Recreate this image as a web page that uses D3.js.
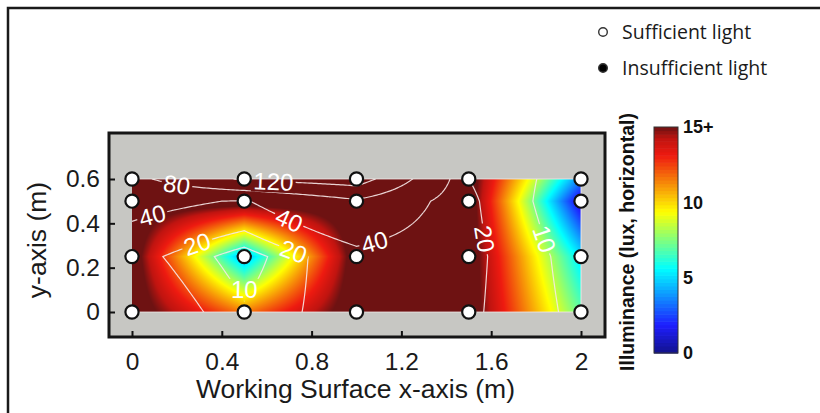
<!DOCTYPE html>
<html><head><meta charset="utf-8">
<script src="https://cdn.jsdelivr.net/npm/d3@7"></script>
<style>
html,body{margin:0;padding:0;background:#fff;}
svg{display:block;}
</style></head>
<body>
<svg id="chart" width="820" height="413"></svg>
<script>
// ---------------- DATA ----------------
const xs = [0, 0.5, 1.0, 1.5, 2.0];          // measurement x positions (m)
const ys = [0, 0.25, 0.5, 0.6];               // measurement y positions (m)
const lux = [                                  // illuminance, one row per ys entry
  [35, 11.5, 28, 22, 7],
  [26, 4.2, 32, 23, 5.2],
  [48, 38, 75, 22, 1.0],
  [70, 125, 140, 20, 3.5]
];
const pointStatus = [                          // all measured points
  ["s","s","s","s","s"],
  ["s","s","s","s","s"],
  ["s","s","s","s","s"],
  ["s","s","s","s","s"]
];
const contourLevels = [10, 20, 40, 80, 120];
const labelHints = [                           // contour label anchors (data units)
  {v: 80, x: 0.2, y: 0.585},
  {v: 120, x: 0.63, y: 0.595},
  {v: 40, x: 0.08, y: 0.465},
  {v: 40, x: 0.71, y: 0.44},
  {v: 40, x: 1.07, y: 0.345},
  {v: 20, x: 0.27, y: 0.37},
  {v: 20, x: 0.73, y: 0.29},
  {v: 10, x: 0.5, y: 0.1, a: 0},
  {v: 20, x: 1.55, y: 0.33},
  {v: 10, x: 1.83, y: 0.33}
];
const xTicks = [0, 0.4, 0.8, 1.2, 1.6, 2];
const yTicks = [0, 0.2, 0.4, 0.6];
const cbTicks = [0, 5, 10, 15];
const cbTickLabels = ["0", "5", "10", "15+"];
const legendItems = [
  {label: "Sufficient light", fill: "#fff"},
  {label: "Insufficient light", fill: "#000"}
];
const xTitle = "Working Surface x-axis (m)";
const yTitle = "y-axis (m)";
const cbTitle = "Illuminance (lux, horizontal)";

// ---------------- SETUP ----------------
const svg = d3.select("#chart");
const xS = d3.scaleLinear().domain([0, 2]).range([132, 581]);
const yS = d3.scaleLinear().domain([0, 0.6]).range([312, 179]);
const frame = {x0: 109, y0: 133, x1: 605, y1: 337};

// jet-like colour map, 0..15 lux (15+ saturates)
const jetS = d3.scaleLinear()
  .domain([0, 1 / 8, 3 / 8, 5 / 8, 7 / 8, 0.95, 1])
  .range(["#12128a", "#1e1eff", "#00ffff", "#ffff00", "#ee1a10", "#c01410", "#6e1212"])
  .interpolate(d3.interpolateRgb).clamp(true);
const color = d3.scaleSequential(t => jetS(t)).domain([0, 15]).clamp(true);

function idx(arr, v) {
  for (let i = 0; i < arr.length - 2; i++) if (v <= arr[i + 1]) return i;
  return arr.length - 2;
}
// bilinear interpolation of the measured grid; g transforms the stored values
function interp(x, y, g) {
  x = Math.max(xs[0], Math.min(xs[xs.length - 1], x));
  y = Math.max(ys[0], Math.min(ys[ys.length - 1], y));
  const i = idx(xs, x), j = idx(ys, y);
  const u = (x - xs[i]) / (xs[i + 1] - xs[i]);
  const w = (y - ys[j]) / (ys[j + 1] - ys[j]);
  const L = (a, b) => g(lux[b][a]);
  return (1 - u) * (1 - w) * L(i, j) + u * (1 - w) * L(i + 1, j) +
         (1 - u) * w * L(i, j + 1) + u * w * L(i + 1, j + 1);
}
const lineField = (x, y) => interp(x, y, v => v);
const colorField = (x, y) => interp(x, y, v => Math.min(v, 16));

// ---------------- OUTER FRAME ----------------
svg.append("path").attr("d", "M8,413 L8,8 L820,8")
  .attr("fill", "none").attr("stroke", "#1a1a1a").attr("stroke-width", 2.5);

// ---------------- AXES BOX ----------------
svg.append("rect").attr("x", frame.x0).attr("y", frame.y0)
  .attr("width", frame.x1 - frame.x0).attr("height", frame.y1 - frame.y0)
  .attr("fill", "#c7c7c3");

// raster
const W = Math.round(xS(2) - xS(0)), H = Math.round(yS(0) - yS(0.6));
const cv = document.createElement("canvas");
cv.width = W; cv.height = H;
const ctx = cv.getContext("2d");
const img = ctx.createImageData(W, H);
for (let py = 0; py < H; py++) {
  for (let px = 0; px < W; px++) {
    const x = xS.invert(xS(0) + px + 0.5), y = yS.invert(yS(0.6) + py + 0.5);
    const c = d3.rgb(color(colorField(x, y)));
    const k = (py * W + px) * 4;
    img.data[k] = c.r; img.data[k + 1] = c.g; img.data[k + 2] = c.b; img.data[k + 3] = 255;
  }
}
ctx.putImageData(img, 0, 0);
svg.append("image").attr("x", xS(0)).attr("y", yS(0.6))
  .attr("width", W).attr("height", H)
  .attr("preserveAspectRatio", "none")
  .attr("href", cv.toDataURL());

// light edge lines of the interpolated surface (top, right, bottom)
svg.append("path")
  .attr("d", `M${xS(0)},${yS(0.6)} H${xS(2)} V${yS(0)} H${xS(0)}`)
  .attr("fill", "none").attr("stroke", "#f4eeee").attr("stroke-opacity", 0.75).attr("stroke-width", 1.1);

// contours
const step = 0.01, pad = 3;
const nx = Math.round(2 / step) + 1 + 2 * pad, ny = Math.round(0.6 / step) + 1 + 2 * pad;
const vals = new Array(nx * ny);
for (let j = 0; j < ny; j++) for (let i = 0; i < nx; i++)
  vals[j * nx + i] = lineField((i - pad) * step, (j - pad) * step);
const contours = d3.contours().size([nx, ny]).thresholds(contourLevels)(vals);
const gx = g => (g - 0.5 - pad) * step;
const proj = d3.geoTransform({
  point: function (x, y) { this.stream.point(xS(gx(x)), yS(gx(y))); }
});
const path = d3.geoPath(proj);

const defs = svg.append("defs");
defs.append("clipPath").attr("id", "dataclip").append("rect")
  .attr("x", xS(0)).attr("y", yS(0.6)).attr("width", W).attr("height", H);

// label placement: snap hint to nearest contour point, follow its direction
const labels = labelHints.map(h => {
  const hx = xS(h.x), hy = yS(h.y);
  if (h.a !== undefined) return {v: h.v, x: hx, y: hy, a: h.a};
  const c = contours.find(d => d.value === h.v);
  let best = null;
  c.coordinates.forEach(poly => poly.forEach(ring => {
    const pts = ring.map(p => [xS(gx(p[0])), yS(gx(p[1]))]);
    pts.forEach((p, k) => {
      const d = (p[0] - hx) ** 2 + (p[1] - hy) ** 2;
      if (!best || d < best.d) best = {d, pts, k};
    });
  }));
  const n = best.pts.length;
  const a = best.pts[(best.k - 4 + n) % n], b = best.pts[(best.k + 4) % n];
  let ang = Math.atan2(b[1] - a[1], b[0] - a[0]) * 180 / Math.PI;
  if (ang > 90) ang -= 180;
  if (ang <= -90) ang += 180;
  const p = best.pts[best.k];
  return {v: h.v, x: p[0], y: p[1], a: ang};
});

const mask = defs.append("mask").attr("id", "lblmask").attr("maskUnits", "userSpaceOnUse")
  .attr("x", 0).attr("y", 0).attr("width", 820).attr("height", 413);
mask.append("rect").attr("width", 820).attr("height", 413).attr("fill", "#fff");
labels.forEach(l => {
  const w = String(l.v).length * 13.5 + 4;
  mask.append("rect").attr("x", -w / 2).attr("y", -11).attr("width", w).attr("height", 22)
    .attr("fill", "#000").attr("transform", `translate(${l.x},${l.y}) rotate(${l.a})`);
});

svg.append("g").attr("clip-path", "url(#dataclip)")
  .append("g").attr("mask", "url(#lblmask)")
  .selectAll("path").data(contours).join("path")
  .attr("d", path).attr("fill", "none")
  .attr("stroke", "#f6e8e8").attr("stroke-opacity", 0.9).attr("stroke-width", 1.2);

svg.append("g").selectAll("text").data(labels).join("text")
  .attr("transform", d => `translate(${d.x},${d.y}) rotate(${d.a})`)
  .attr("text-anchor", "middle").attr("dy", "0.36em")
  .attr("font-family", "Liberation Sans, Arial, sans-serif").attr("font-size", 24)
  .attr("fill", "#fff").text(d => d.v);

// measurement points
const pts = [];
ys.forEach((y, j) => xs.forEach((x, i) => pts.push({x, y, s: pointStatus[j][i]})));
svg.append("g").selectAll("circle").data(pts).join("circle")
  .attr("cx", d => xS(d.x)).attr("cy", d => yS(d.y)).attr("r", 6.6)
  .attr("fill", d => d.s === "s" ? "#fff" : "#000")
  .attr("stroke", "#111").attr("stroke-width", 2.2);

// frame border
svg.append("rect").attr("x", frame.x0).attr("y", frame.y0)
  .attr("width", frame.x1 - frame.x0).attr("height", frame.y1 - frame.y0)
  .attr("fill", "none").attr("stroke", "#151515").attr("stroke-width", 3);

// axes
const fontH = "Liberation Sans, Arial, Helvetica, sans-serif";
const xAxis = svg.append("g").attr("transform", `translate(0,${frame.y1})`)
  .call(d3.axisBottom(xS).tickValues(xTicks).tickSizeInner(-6).tickSizeOuter(0).tickPadding(16)
    .tickFormat(d3.format("~g")));
const yAxis = svg.append("g").attr("transform", `translate(${frame.x0},0)`)
  .call(d3.axisLeft(yS).tickValues(yTicks).tickSizeInner(-6).tickSizeOuter(0).tickPadding(9)
    .tickFormat(d3.format("~g")));
[xAxis, yAxis].forEach(a => {
  a.select(".domain").remove();
  a.selectAll(".tick line").attr("stroke", "#111").attr("stroke-width", 2);
  a.selectAll(".tick text").attr("font-family", fontH).attr("font-size", 24.5).attr("fill", "#1a1a1a");
});

svg.append("text").attr("x", (xS(0) + xS(2)) / 2 - 1).attr("y", 398)
  .attr("text-anchor", "middle").attr("font-family", fontH).attr("font-size", 26.5)
  .attr("fill", "#1a1a1a").text(xTitle);
svg.append("text").attr("transform", "translate(46,240) rotate(-90)")
  .attr("text-anchor", "middle").attr("font-family", fontH).attr("font-size", 26.5)
  .attr("fill", "#1a1a1a").text(yTitle);

// ---------------- COLORBAR ----------------
const cbS = d3.scaleLinear().domain([0, 15]).range([353, 127]);
const cbX = 654, cbW = 24;
const cbSteps = d3.range(0, 15, 15 / 64);
svg.append("g").selectAll("rect").data(cbSteps).join("rect")
  .attr("x", cbX).attr("width", cbW)
  .attr("y", d => cbS(d + 15 / 64)).attr("height", d => cbS(d) - cbS(d + 15 / 64) + 0.6)
  .attr("fill", d => color(d + 15 / 128));
svg.append("rect").attr("x", cbX).attr("y", cbS(15)).attr("width", cbW)
  .attr("height", cbS(0) - cbS(15)).attr("fill", "none").attr("stroke", "#333").attr("stroke-width", 1);
svg.append("g").selectAll("text").data(cbTicks).join("text")
  .attr("x", cbX + cbW + 5).attr("y", d => cbS(d)).attr("dy", "0.36em")
  .attr("font-family", fontH).attr("font-weight", "bold").attr("font-size", 18)
  .attr("fill", "#111").text((d, i) => cbTickLabels[i]);
svg.append("text").attr("transform", "translate(634,242) rotate(-90)")
  .attr("text-anchor", "middle").attr("font-family", fontH).attr("font-weight", "bold")
  .attr("font-size", 19.5).attr("fill", "#111").text(cbTitle);

// ---------------- LEGEND ----------------
const lg = svg.append("g").selectAll("g").data(legendItems).join("g")
  .attr("transform", (d, i) => `translate(603,${32 + i * 36})`);
lg.append("circle").attr("r", 4.3).attr("fill", d => d.fill)
  .attr("stroke", "#333").attr("stroke-width", 1.4);
lg.append("text").attr("x", 19).attr("dy", "0.36em")
  .attr("font-family", "Open Sans, Lato, sans-serif").attr("font-size", 19.5)
  .attr("fill", "#1a1a1a").text(d => d.label);
</script>
</body></html>
